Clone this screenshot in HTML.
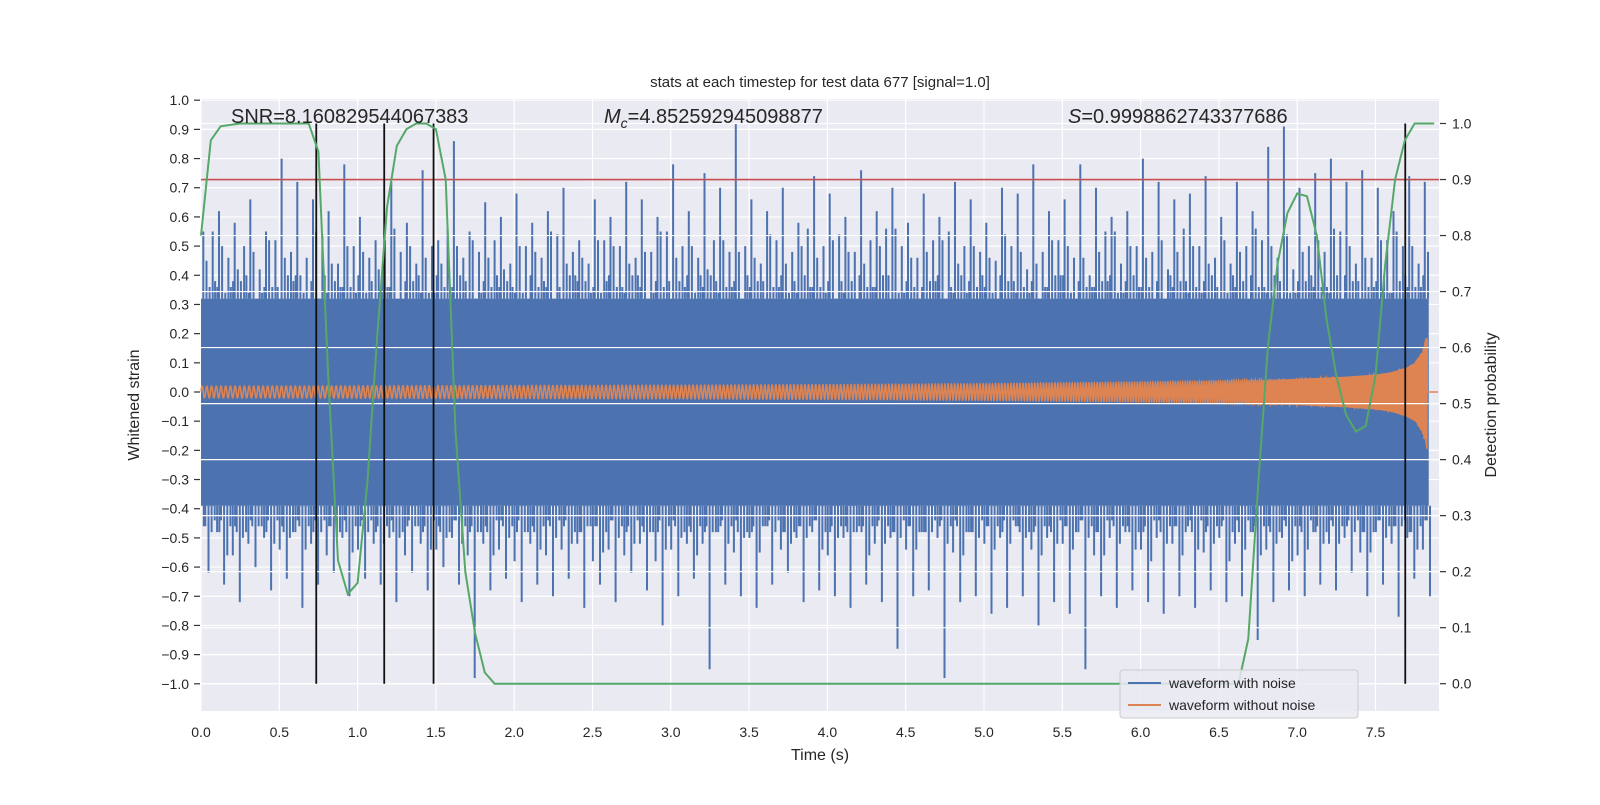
<!DOCTYPE html>
<html><head><meta charset="utf-8"><style>
body{margin:0;background:#fff;}
svg text{font-family:"Liberation Sans","DejaVu Sans",sans-serif;fill:#262626;}
</style></head><body>
<svg id="chart" width="1600" height="800" viewBox="0 0 1600 800" xmlns="http://www.w3.org/2000/svg">
<rect x="201" y="99" width="1238" height="612" fill="#eaeaf2"/>
<g id="gridL"></g>
<g id="noise"></g>
<g id="chirp"></g>
<g id="gridR"></g>
<g id="overlay"></g>
<g id="axes"></g>
<text x="820" y="87" text-anchor="middle" font-size="15">stats at each timestep for test data 677 [signal=1.0]</text>
<text x="231" y="123" font-size="20">SNR=8.160829544067383</text>
<text x="604" y="123" font-size="20"><tspan font-style="italic">M</tspan><tspan font-style="italic" font-size="14" dy="5">c</tspan><tspan dy="-5">=4.852592945098877</tspan></text>
<text x="1068" y="123" font-size="20"><tspan font-style="italic">S</tspan>=0.9998862743377686</text>
<text x="820" y="760" text-anchor="middle" font-size="16">Time (s)</text>
<text transform="translate(139,405) rotate(-90)" text-anchor="middle" font-size="16">Whitened strain</text>
<text transform="translate(1496,405) rotate(-90)" text-anchor="middle" font-size="16">Detection probability</text>
<g>
<rect x="1120" y="670" width="238" height="48" rx="3" fill="#eaeaf2" fill-opacity="0.85" stroke="#cccccc"/>
<line x1="1128" y1="683" x2="1161" y2="683" stroke="#4c72b0" stroke-width="2"/>
<text x="1169" y="688" font-size="14">waveform with noise</text>
<line x1="1128" y1="705" x2="1161" y2="705" stroke="#dd8452" stroke-width="2"/>
<text x="1169" y="710" font-size="14">waveform without noise</text>
</g>
</svg>
<script>
const xTicks=[0,0.5,1,1.5,2,2.5,3,3.5,4,4.5,5,5.5,6,6.5,7,7.5];
const yTicks=[-1,-0.9,-0.8,-0.7,-0.6,-0.5,-0.4,-0.3,-0.2,-0.1,0,0.1,0.2,0.3,0.4,0.5,0.6,0.7,0.8,0.9,1.0];
const y2Ticks=[0,0.1,0.2,0.3,0.4,0.5,0.6,0.7,0.8,0.9,1.0];
const noiseUp1=[0.55,0.62,0.58,0.66,0.55,0.80,0.72,0.66,0.62,0.78,0.60,0.52,0.72,0.58,0.76,0.52,0.86,0.55,0.65,0.60,0.68,0.58,0.62,0.70,0.52,0.66,0.60,0.72,0.66,0.60,0.78,0.62,0.75,0.70,0.92,0.66,0.62,0.70,0.58,0.74,0.68,0.60,0.76,0.62,0.70,0.58,0.68,0.60,0.72,0.66,0.58,0.70,0.68,0.78,0.62,0.66,0.78,0.70,0.60,0.62,0.80,0.72,0.66,0.68,0.74,0.60,0.72,0.62,0.84,0.91,0.70,0.75,0.80,0.72,0.76,0.70,0.62,0.74,0.72];
const noiseUp2=[0.45,0.50,0.42,0.48,0.52,0.46,0.40,0.55,0.44,0.50,0.48,0.42,0.56,0.50,0.46,0.44,0.50,0.52,0.46,0.42,0.50,0.48,0.55,0.44,0.46,0.52,0.50,0.44,0.48,0.55,0.46,0.50,0.42,0.52,0.48,0.46,0.54,0.44,0.50,0.46,0.52,0.48,0.44,0.50,0.56,0.46,0.48,0.52,0.44,0.50,0.46,0.54,0.48,0.44,0.52,0.50,0.46,0.48,0.55,0.50,0.46,0.52,0.48,0.50,0.44,0.52,0.48,0.56,0.50,0.54,0.48,0.52,0.56,0.50,0.46,0.52,0.55,0.50,0.48];
const noiseUp3=[0.36,0.34,0.38,0.32,0.36,0.40,0.34,0.30,0.38,0.36,0.34,0.40,0.32,0.38,0.34,0.36,0.40,0.32,0.36,0.38,0.34,0.36,0.32,0.40,0.38,0.34,0.36,0.40,0.32,0.36,0.38,0.34,0.40,0.36,0.32,0.38,0.36,0.34,0.40,0.36,0.32,0.38,0.36,0.40,0.34,0.36,0.38,0.32,0.40,0.36,0.34,0.38,0.36,0.32,0.40,0.34,0.36,0.38,0.34,0.40,0.36,0.32,0.38,0.36,0.40,0.34,0.38,0.36,0.40,0.34,0.38,0.36,0.40,0.38,0.36,0.40,0.38,0.36,0.38];
const noiseDn1=[-0.68,-0.62,-0.70,-0.66,-0.77,-0.64,-0.70,-0.62,-0.66,-0.72,-0.60,-0.68,-0.64,-0.74,-0.66,-0.62,-0.70,-0.64,-0.66,-0.72,-0.62,-0.68,-0.60,-0.66,-0.98,-0.68,-0.64,-0.72,-0.66,-0.70,-0.64,-0.74,-0.66,-0.72,-0.62,-0.68,-0.80,-0.70,-0.64,-0.95,-0.66,-0.70,-0.74,-0.66,-0.62,-0.72,-0.68,-0.70,-0.74,-0.66,-0.72,-0.88,-0.70,-0.68,-0.98,-0.72,-0.70,-0.76,-0.74,-0.70,-0.80,-0.72,-0.76,-0.95,-0.70,-0.74,-0.68,-0.72,-0.76,-0.70,-0.74,-0.68,-0.72,-0.70,-0.85,-0.72,-0.68,-0.70,-0.66];
const noiseDn2=[-0.52,-0.48,-0.55,-0.50,-0.46,-0.54,-0.50,-0.48,-0.56,-0.50,-0.46,-0.52,-0.50,-0.54,-0.48,-0.50,-0.55,-0.48,-0.52,-0.50,-0.46,-0.54,-0.50,-0.52,-0.48,-0.56,-0.50,-0.48,-0.54,-0.50,-0.52,-0.46,-0.55,-0.50,-0.52,-0.48,-0.54,-0.50,-0.56,-0.48,-0.52,-0.50,-0.55,-0.48,-0.52,-0.50,-0.54,-0.50,-0.48,-0.56,-0.52,-0.50,-0.54,-0.48,-0.52,-0.56,-0.50,-0.54,-0.52,-0.50,-0.56,-0.52,-0.54,-0.50,-0.56,-0.52,-0.54,-0.58,-0.52,-0.56,-0.54,-0.52,-0.58,-0.54,-0.56,-0.52,-0.58,-0.54,-0.52];
const noiseDn3=[-0.46,-0.44,-0.48,-0.44,-0.46,-0.48,-0.44,-0.46,-0.44,-0.48,-0.46,-0.44,-0.48,-0.46,-0.44,-0.46,-0.48,-0.44,-0.46,-0.48,-0.44,-0.46,-0.48,-0.44,-0.46,-0.48,-0.46,-0.44,-0.48,-0.46,-0.44,-0.48,-0.46,-0.44,-0.46,-0.48,-0.44,-0.46,-0.48,-0.46,-0.44,-0.48,-0.46,-0.44,-0.48,-0.46,-0.44,-0.46,-0.48,-0.46,-0.44,-0.48,-0.46,-0.48,-0.44,-0.46,-0.48,-0.46,-0.44,-0.48,-0.46,-0.48,-0.46,-0.44,-0.48,-0.46,-0.48,-0.46,-0.48,-0.46,-0.48,-0.46,-0.44,-0.48,-0.46,-0.48,-0.46,-0.48,-0.46];
const noiseCore=[0.32,-0.39];
const chirpTimes=[0,1,2,3,4,5,6,6.5,7,7.3,7.5,7.6,7.7,7.75,7.8,7.83,7.84];
const chirpAmp=[0.02,0.021,0.022,0.023,0.025,0.028,0.033,0.037,0.045,0.052,0.06,0.068,0.085,0.1,0.14,0.2,0];
const chirpFreq=[33,35,37,40,44,50,60,68,85,100,120,140,180,210,260,300,300];
const probTimes=[0,0.0625,0.125,0.25,0.375,0.5,0.625,0.6875,0.75,0.8125,0.875,0.9375,1.0,1.0625,1.125,1.1875,1.25,1.3125,1.375,1.4375,1.5,1.5625,1.625,1.6875,1.75,1.8125,1.875,2.0,6.625,6.6875,6.75,6.8125,6.875,6.9375,7.0,7.0625,7.125,7.1875,7.25,7.3125,7.375,7.4375,7.5,7.5625,7.625,7.6875,7.75,7.8125,7.875];
const probVals=[0.80,0.97,0.995,1.0,1.0,1.0,1.0,1.0,0.95,0.55,0.22,0.16,0.18,0.36,0.62,0.85,0.96,0.99,1.0,1.0,0.99,0.90,0.45,0.20,0.09,0.02,0.0,0.0,0.0,0.08,0.35,0.60,0.75,0.84,0.875,0.87,0.80,0.65,0.55,0.48,0.45,0.46,0.55,0.75,0.90,0.97,1.0,1.0,1.0];
const threshold=[0.9];
const detectTimes=[0.736,1.17,1.485,7.69];

const X=t=>201+t*156.6, YL=v=>392-v*291.8, YR=p=>683.7-p*560.2;
const NS='http://www.w3.org/2000/svg';
function mk(tag,attrs,parent){const e=document.createElementNS(NS,tag);for(const k in attrs)e.setAttribute(k,attrs[k]);parent.appendChild(e);return e;}
const gL=document.getElementById('gridL'),gR=document.getElementById('gridR'),nz=document.getElementById('noise'),ch=document.getElementById('chirp'),ov=document.getElementById('overlay'),ax=document.getElementById('axes');
xTicks.forEach(t=>{const l=mk('line',{x1:X(t),x2:X(t),y1:99,y2:711,stroke:'#fff','stroke-width':1.2},gL);


const tx=mk('text',{x:X(t),y:737,'text-anchor':'middle','font-size':14},ax);tx.textContent=t.toFixed(1);

});
yTicks.forEach(v=>{const l=mk('line',{x1:201,x2:1439,y1:YL(v),y2:YL(v),stroke:'#fff','stroke-width':1.2},gL);


mk('line',{x1:194,x2:200,y1:YL(v),y2:YL(v),stroke:'#333','stroke-width':1.2},ax);
const tx=mk('text',{x:189,y:YL(v)+5,'text-anchor':'end','font-size':14},ax);tx.textContent=(v<0?'\u2212':'')+Math.abs(v).toFixed(1);

});
y2Ticks.forEach(p=>{const l=mk('line',{x1:201,x2:1439,y1:YR(p),y2:YR(p),stroke:'#fff','stroke-width':1.2},gR);


mk('line',{x1:1440,x2:1446,y1:YR(p),y2:YR(p),stroke:'#333','stroke-width':1.2},ax);
const tx=mk('text',{x:1452,y:YR(p)+5,'font-size':14},ax);tx.textContent=p.toFixed(1);

});
// noise
const tEnd=7.84;
const core=mk('rect',{x:X(0),y:YL(noiseCore[0]),width:X(tEnd)-X(0),height:YL(noiseCore[1])-YL(noiseCore[0]),fill:'#4c72b0'},nz);


let d='';
const n=noiseUp1.length;
const sets=[[noiseUp1,noiseDn3,0.015,0],[noiseUp2,noiseDn1,0.035,0],[noiseUp3,noiseDn2,0.055,0],[noiseUp2,noiseDn3,0.075,29],[noiseUp3,noiseDn2,0.09,41],[noiseUp3,noiseDn3,0.005,17]];
sets.forEach(([u,dn,off,sh])=>{for(let i=0;i<n;i++){const t=i*0.1+off;if(t>=tEnd)continue;
const v=u[(i+sh)%n],w=dn[(i+sh+7)%n];
d+=`M${X(t).toFixed(1)} ${YL(v).toFixed(1)}V${YL(noiseCore[0])}`;
d+=`M${(X(t)+2).toFixed(1)} ${YL(w).toFixed(1)}V${YL(noiseCore[1])}`;}});
const sp=mk('path',{d:d,stroke:'#4c72b0','stroke-width':2,fill:'none'},nz);


// chirp
function interp(xs,ys,t){if(t<=xs[0])return ys[0];for(let i=1;i<xs.length;i++)if(t<=xs[i]){const f=(t-xs[i-1])/(xs[i]-xs[i-1]);return ys[i-1]+f*(ys[i]-ys[i-1]);}return ys[ys.length-1];}
let ph=0,cd='';const dt=0.0005;const tc=chirpTimes[chirpTimes.length-2];
for(let t=0;t<=tc;t+=dt){const a=interp(chirpTimes,chirpAmp,t),f=interp(chirpTimes,chirpFreq,t);ph+=2*Math.PI*f*dt;
cd+=(t===0?'M':'L')+X(t).toFixed(2)+' '+YL(a*Math.sin(ph)).toFixed(2);}
cd+=`L${X(tc)} ${YL(0)}L${X(7.9)} ${YL(0)}`;
const cp=mk('path',{d:cd,stroke:'#dd8452','stroke-width':1.6,fill:'none'},ch);


// overlay
const th=mk('line',{x1:201,x2:1439,y1:YR(threshold[0]),y2:YR(threshold[0]),stroke:'#c44e52','stroke-width':1.6},ov);


detectTimes.forEach(t=>{const l=mk('line',{x1:X(t),x2:X(t),y1:YR(1),y2:YR(0),stroke:'#111','stroke-width':1.8},ov);

});
const pd=probTimes.map((t,i)=>(i?'L':'M')+X(t).toFixed(1)+' '+YR(probVals[i]).toFixed(1)).join('');
const pl=mk('path',{d:pd,stroke:'#55a868','stroke-width':2,fill:'none'},ov);


</script>
</body></html>
